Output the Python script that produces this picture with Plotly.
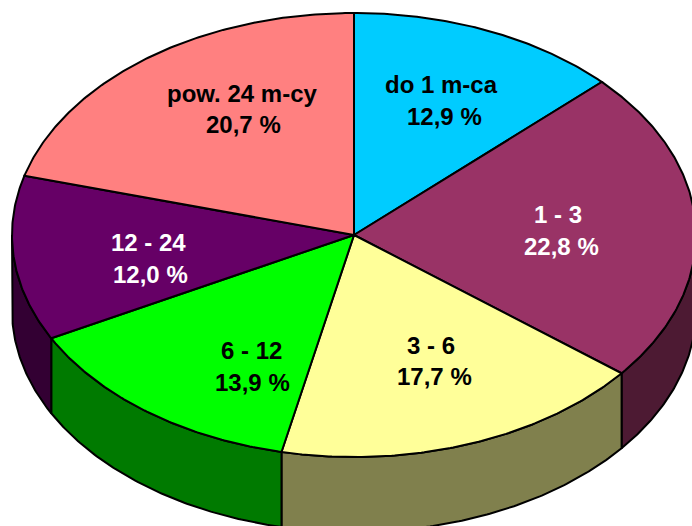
import math
import plotly.graph_objects as go

labels = ["do 1 m-ca", "1 - 3", "3 - 6", "6 - 12", "12 - 24", "pow. 24 m-cy"]
values = [12.9, 22.8, 17.7, 13.9, 12.0, 20.7]
top_colors = ["#00CCFF", "#993366", "#FFFF99", "#00FF00", "#660066", "#FF8080"]
side_colors = ["#006680", "#4D1A33", "#80804D", "#007A00", "#330033", "#804040"]
text_colors = ["black", "white", "black", "black", "white", "black"]

# Projection of the tilted pie, in page pixels
CX, CY, RX, RY, DEPTH = 354.0, 235.0, 342.0, 222.0, 75.0
# Centre of each label's first and second line
name_pos = [(441, 84), (558, 214), (431, 345), (251, 350), (148, 242), (242, 93)]
pct_pos = [(444, 116), (561, 246), (434, 376), (252, 382), (150, 274), (243, 124)]


def rim(a):
    r = math.radians(a)
    return CX + RX * math.sin(r), CY - RY * math.cos(r)


def arc(a0, a1):
    n = max(2, int(abs(a1 - a0) * 2))
    return [rim(a0 + (a1 - a0) * i / n) for i in range(n + 1)]


def add_poly(fig, pts, fill):
    fig.add_trace(go.Scatter(
        x=[p[0] for p in pts], y=[p[1] for p in pts], mode="lines",
        fill="toself", fillcolor=fill,
        line=dict(color="black", width=2), hoverinfo="skip", showlegend=False))


fig = go.Figure()
total = sum(values)
edges = [0.0]
for v in values:
    edges.append(edges[-1] + 360.0 * v / total)

for i in range(len(values)):
    lo, hi = max(edges[i], 90.0), min(edges[i + 1], 270.0)
    if hi > lo:
        front = arc(lo, hi)
        low = [(x, y + DEPTH) for x, y in reversed(front)]
        pts = front + low + [front[0]]
        add_poly(fig, pts, side_colors[i])

for i in range(len(values)):
    pts = [(CX, CY)] + arc(edges[i], edges[i + 1]) + [(CX, CY)]
    add_poly(fig, pts, top_colors[i])

for i, name in enumerate(labels):
    pct = f"{values[i]:.1f} %".replace(".", ",")
    for txt, (x, y) in ((name, name_pos[i]), (pct, pct_pos[i])):
        fig.add_annotation(
            x=x, y=y, text=f"<b>{txt}</b>", showarrow=False,
            xanchor="center", yanchor="middle",
            font=dict(family="Liberation Sans, Arial, sans-serif", size=24, color=text_colors[i]))

fig.update_xaxes(range=[0, 692], visible=False, fixedrange=True)
fig.update_yaxes(range=[526, 0], visible=False, fixedrange=True)
fig.update_layout(width=692, height=526, margin=dict(l=0, r=0, t=0, b=0),
                  paper_bgcolor="white", plot_bgcolor="white", showlegend=False)
fig.write_html("out.html", config={"displayModeBar": False},
               post_script="document.body.style.margin='0';")
